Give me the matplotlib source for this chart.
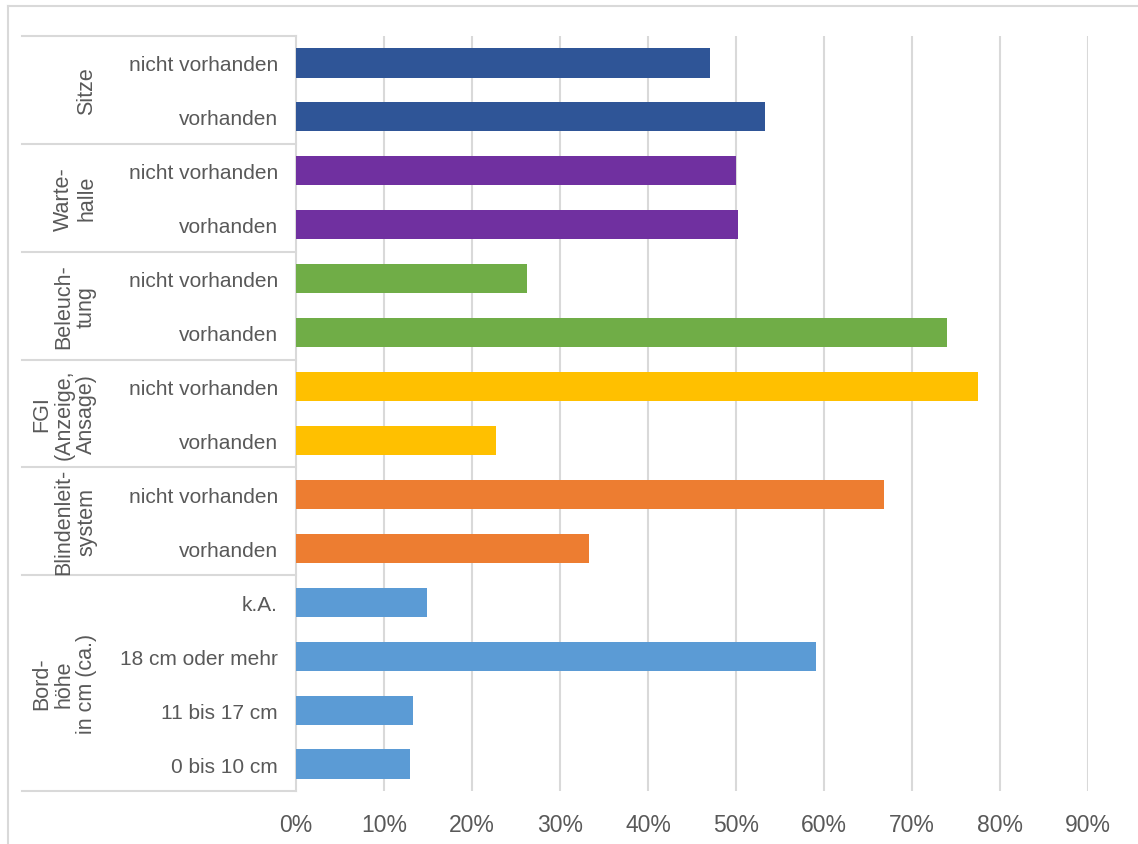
import matplotlib.pyplot as plt
from matplotlib.lines import Line2D

plt.rcParams['font.family'] = ['Liberation Sans', 'DejaVu Sans']

# Daten (von oben nach unten)
gruppen = ["Sitze", "Warte-\nhalle", "Beleuch-\ntung", "FGI\n(Anzeige,\nAnsage)",
           "Blindenleit-\nsystem", "Bord-\nhöhe\nin cm (ca.)"]
gruppen_n = [2, 2, 2, 2, 2, 4]
farben = ["#2F5597", "#7030A0", "#70AD47", "#FFC000", "#ED7D31", "#5B9BD5"]

kategorien = ["nicht vorhanden", "vorhanden",
              "nicht vorhanden", "vorhanden",
              "nicht vorhanden", "vorhanden",
              "nicht vorhanden", "vorhanden",
              "nicht vorhanden", "vorhanden",
              "k.A.", "18 cm oder mehr", "11 bis 17 cm", "0 bis 10 cm"]
werte = [0.470, 0.533,
         0.500, 0.502,
         0.262, 0.740,
         0.775, 0.227,
         0.668, 0.333,
         0.149, 0.591, 0.133, 0.130]

xticks = [0.0, 0.1, 0.2, 0.3, 0.4, 0.5, 0.6, 0.7, 0.8, 0.9]
xlabels = ["0%", "10%", "20%", "30%", "40%", "50%", "60%", "70%", "80%", "90%"]

grau = "#595959"
linie = "#D9D9D9"

fig = plt.figure(figsize=(11.38, 8.45), dpi=100)
ax = fig.add_axes([296 / 1138, 1 - 792 / 845, 792 / 1138, 755 / 845])

bar_farben = []
for f, n in zip(farben, gruppen_n):
    bar_farben += [f] * n

y = list(range(len(kategorien)))
ax.barh(y, werte, height=0.54, color=bar_farben, zorder=3)

ax.set_xlim(0, 0.9)
ax.set_ylim(len(kategorien) - 0.5, -0.5)
ax.set_xticks(xticks)
ax.set_xticklabels(xlabels, fontsize=16.5, color=grau)
ax.set_yticks(y)
ax.set_yticklabels(kategorien, fontsize=15, color=grau)
ax.tick_params(axis='both', length=0)
ax.tick_params(axis='x', pad=16)
ax.tick_params(axis='y', pad=13)

for s in ["top", "right", "bottom"]:
    ax.spines[s].set_visible(False)
ax.spines["left"].set_color(linie)
ax.spines["left"].set_linewidth(1.5)

for xv in xticks[1:]:
    ax.axvline(xv, color=linie, lw=1.5, zorder=1)

# Tabellenlinien und Gruppenbeschriftungen
trans = ax.get_yaxis_transform()
x_links = (22 - 296) / 792
x_text = (97 - 296) / 792
start = -0.5
ax.plot([x_links, 0], [start, start], color=linie, lw=1.5, transform=trans, clip_on=False)
for name, n in zip(gruppen, gruppen_n):
    ende = start + n
    ax.plot([x_links, 0], [ende, ende], color=linie, lw=1.5, transform=trans, clip_on=False)
    ax.text(x_text, (start + ende) / 2, name, rotation=90, ha='right', va='center',
            multialignment='center', fontsize=15.5, color=grau, transform=trans,
            linespacing=1.1)
    start = ende

# Rahmen
fig.add_artist(Line2D([8 / 1138, 8 / 1138], [0, 1 - 7 / 845], color=linie, lw=1.5))
fig.add_artist(Line2D([8 / 1138, 1], [1 - 7 / 845, 1 - 7 / 845], color=linie, lw=1.5))

fig.savefig("out.png", dpi=100)
